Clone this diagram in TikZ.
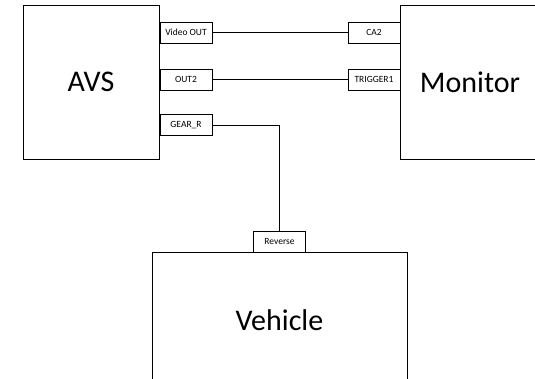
\documentclass[tikz,border=0pt]{standalone}
\usepackage{fontspec}
\setmainfont{Carlito}
\begin{document}
\begin{tikzpicture}[x=1pt,y=-1pt,
  blk/.style={draw, line width=0.8pt, inner sep=0pt, font=\fontsize{30}{36}\selectfont},
  port/.style={draw, line width=0.8pt, inner sep=0pt, minimum width=52pt, minimum height=21pt, font=\fontsize{9.5}{11}\selectfont},
  wire/.style={line width=0.8pt}]
\useasboundingbox (0,0) rectangle (535,379);
\clip (0,0) rectangle (535,379);
\node[blk, minimum width=136pt, minimum height=154pt] (avs) at (91,82) {AVS};
\node[blk, minimum width=140pt, minimum height=154pt] (mon) at (470,82) {Monitor};
\node[blk, minimum width=255pt, minimum height=136pt] (veh) at (279.5,320) {Vehicle};
\node[port] (vout) at (186,32.5) {Video OUT};
\node[port] (out2) at (186,79.5) {OUT2};
\node[port] (gear) at (186,125) {GEAR\_R};
\node[port] (ca2) at (374,32.5) {CA2};
\node[port] (trig) at (374,79.5) {TRIGGER1};
\node[port] (rev) at (279.5,241.5) {Reverse};
\draw[wire] (vout.east) -- (ca2.west);
\draw[wire] (out2.east) -- (trig.west);
\draw[wire] (gear.east) -| (rev.north);
\end{tikzpicture}
\end{document}
